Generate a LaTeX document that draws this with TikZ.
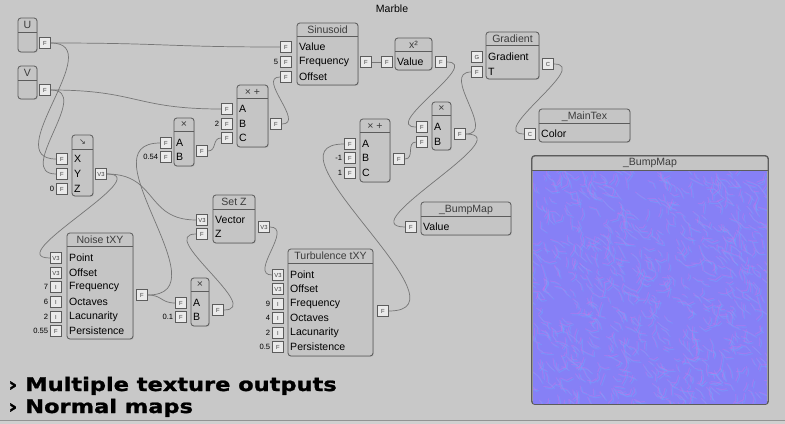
\documentclass[tikz,border=0pt]{standalone}
\usepackage{fontspec}
\setmainfont{Liberation Sans}
\newfontfamily\symfont{DejaVu Sans}
\newfontfamily\bannerfont{DejaVu Sans Bold}[FakeStretch=1.2, FakeBold=1.2]
\usetikzlibrary{fit,shadows}
\definecolor{panelgrey}{RGB}{200,200,200}
\definecolor{boxgrey}{RGB}{197,197,197}
\definecolor{edgegrey}{RGB}{92,92,92}
\definecolor{portgrey}{RGB}{234,234,234}
\definecolor{wiregrey}{RGB}{118,118,118}
\definecolor{titlegrey}{RGB}{60,60,60}
\definecolor{nmbase}{RGB}{134,128,246}
\definecolor{nmpink}{RGB}{196,120,236}
\definecolor{nmblue}{RGB}{110,168,255}

\begin{document}
\begin{tikzpicture}[x=0.03cm, y=-0.03cm,
  blk/.style={draw=edgegrey, fill=boxgrey, line width=0.7pt, rounded corners=2.5pt, inner sep=0pt,
    drop shadow={shadow xshift=0.7pt, shadow yshift=-0.7pt, opacity=0.25}},
  ttl/.style={font=\fontsize{9}{10}\selectfont, text=titlegrey, inner sep=0pt},
  row/.style={font=\fontsize{9}{10}\selectfont, anchor=west, inner sep=0pt},
  sep/.style={draw=edgegrey, line width=0.6pt},
  port/.style={draw=edgegrey, fill=portgrey, line width=0.5pt, minimum size=0.33cm, inner sep=0pt,
    font=\fontsize{5}{5}\selectfont, text=titlegrey},
  val/.style={font=\fontsize{6.5}{7}\selectfont, inner sep=0pt, label distance=1.5pt},
  banner/.style={anchor=base west, inner sep=0pt, font=\bannerfont\fontsize{16}{18}\selectfont},
  wire/.style={draw=wiregrey, line width=0.6pt, out=0, in=180, looseness=1.3}]
\fill[panelgrey] (0,0) rectangle (785,424);
\useasboundingbox (0,0) rectangle (785,424);
\fill[panelgrey!85!white] (0,420) rectangle (785,424);
\draw[gray!85, line width=0.4pt] (0,420) -- (785,420);
\node[ttl, text=black] (title) at (392,9) {Marble};

\node[blk, fit={(18,18) (37,52)}] (u) {};
\node[ttl] at (27.5,25) {U};
\draw[sep] (18,32) -- (37,32);
\node[port] (uF) at (45,43) {F};

\node[blk, fit={(18,66) (37,99)}] (v) {};
\node[ttl] at (27.5,73) {V};
\draw[sep] (18,80) -- (37,80);
\node[port] (vF) at (45,90) {F};

\node[blk, fit={(72,135) (93,196)}] (dir) {};
\node[ttl] at (82.5,142) {\symfont\fontsize{7}{7}\selectfont ↘};
\draw[sep] (72,149) -- (93,149);
\node[row] at (74,159) {X};
\node[row] at (74,174) {Y};
\node[row] at (74,189) {Z};
\node[port] (dirX) at (62,159) {F};
\node[port] (dirY) at (62,174) {F};
\node[port, label={[val]left:0}] (dirZ) at (62,189) {F};
\node[port] (dirO) at (101,174) {V3};

\node[blk, fit={(174,118) (194,166)}] (ma) {};
\node[ttl] at (184,125) {×};
\draw[sep] (174,131) -- (194,131);
\node[row] at (176,143) {A};
\node[row] at (176,157) {B};
\node[port] (maA) at (166,143) {F};
\node[port, label={[val]left:0.54}] (maB) at (166,157) {F};
\node[port] (maO) at (202,151) {F};

\node[blk, fit={(237,85) (268,147)}] (xl) {};
\node[ttl] at (252.5,92) {× +};
\draw[sep] (237,98) -- (268,98);
\node[row] at (239,109) {A};
\node[row] at (239,124) {B};
\node[row] at (239,138) {C};
\node[port] (xlA) at (227,109) {F};
\node[port, label={[val]left:2}] (xlB) at (227,124) {F};
\node[port] (xlC) at (227,138) {F};
\node[port] (xlO) at (276,124) {F};

\node[blk, fit={(297,23) (358,85)}] (sn) {};
\node[ttl] at (327.5,30) {Sinusoid};
\draw[sep] (297,36) -- (358,36);
\node[row] at (299,47) {Value};
\node[row] at (299,62) {Frequency};
\node[row] at (299,77) {Offset};
\node[port] (snV) at (286,47) {F};
\node[port, label={[val]left:5}] (snF) at (286,62) {F};
\node[port] (snO) at (286,77) {F};
\node[port] (snOut) at (366,62) {F};

\node[blk, fit={(395,38) (432,70)}] (sq) {};
\node[ttl] at (413.5,45) {x²};
\draw[sep] (395,51) -- (432,51);
\node[row] at (397,62) {Value};
\node[port] (sqV) at (387,62) {F};
\node[port] (sqO) at (441,62) {F};

\node[blk, fit={(360,119) (390,182)}] (xr) {};
\node[ttl] at (375,126) {× +};
\draw[sep] (360,132) -- (390,132);
\node[row] at (362,144) {A};
\node[row] at (362,158) {B};
\node[row] at (362,173) {C};
\node[port] (xrA) at (350,144) {F};
\node[port, label={[val]left:-1}] (xrB) at (350,158) {F};
\node[port, label={[val]left:1}] (xrC) at (350,173) {F};
\node[port] (xrO) at (399,159) {F};

\node[blk, fit={(432,102) (451,150)}] (mr) {};
\node[ttl] at (441.5,109) {×};
\draw[sep] (432,115) -- (451,115);
\node[row] at (434,127) {A};
\node[row] at (434,142) {B};
\node[port] (mrA) at (422,127) {F};
\node[port] (mrB) at (422,142) {F};
\node[port] (mrO) at (460,134) {F};

\node[blk, fit={(486,32) (539,79)}] (gr) {};
\node[ttl] at (512.5,39) {Gradient};
\draw[sep] (486,45) -- (539,45);
\node[row] at (488,57) {Gradient};
\node[row] at (488,72) {T};
\node[port] (grG) at (477,57) {G};
\node[port] (grT) at (477,72) {F};
\node[port] (grC) at (548,64) {C};

\node[blk, fit={(539,109) (630,142)}] (mt) {};
\node[ttl] at (584.5,117) {\_MainTex};
\draw[sep] (539,123) -- (630,123);
\node[row] at (541,134) {Color};
\node[port] (mtC) at (530,134) {C};

\node[blk, fit={(421,202) (511,235)}] (bm) {};
\node[ttl] at (466,210) {\_BumpMap};
\draw[sep] (421,216) -- (511,216);
\node[row] at (423,227) {Value};
\node[port] (bmV) at (411,227) {F};

\node[blk, fit={(67,233) (133,339)}] (nz) {};
\node[ttl] at (100,240) {Noise tXY};
\draw[sep] (67,246) -- (133,246);
\foreach \yy/\tx/\pt/\vv [count=\i] in {258/Point/V3/{}, 273/Offset/V3/{}, 287/Frequency/I/7,
    302/Octaves/I/6, 317/Lacunarity/I/2, 331/Persistence/F/0.55} {
  \node[row] at (69,\yy) {\tx};
  \node[port, label={[val]left:\vv}] (nz\i) at (56,\yy) {\pt};
}
\node[port] (nzO) at (142,295) {F};

\node[blk, fit={(191,278) (209,326)}] (mb) {};
\node[ttl] at (200,285) {×};
\draw[sep] (191,291) -- (209,291);
\node[row] at (193,303) {A};
\node[row] at (193,317) {B};
\node[port] (mbA) at (181,303) {F};
\node[port, label={[val]left:0.1}] (mbB) at (181,317) {F};
\node[port] (mbO) at (218,310) {F};

\node[blk, fit={(213,195) (255,243)}] (sz) {};
\node[ttl] at (234,202) {Set Z};
\draw[sep] (213,209) -- (255,209);
\node[row] at (215,220) {Vector};
\node[row] at (215,234) {Z};
\node[port] (szV) at (202,220) {V3};
\node[port] (szZ) at (202,234) {F};
\node[port] (szO) at (264,227) {V3};

\node[blk, fit={(288,249) (373,356)}] (tb) {};
\node[ttl] at (330.5,256) {Turbulence tXY};
\draw[sep] (288,263) -- (373,263);
\foreach \yy/\tx/\pt/\vv [count=\i] in {275/Point/V3/{}, 289/Offset/V3/{}, 304/Frequency/I/9,
    318/Octaves/I/4, 333/Lacunarity/I/2, 347/Persistence/F/0.5} {
  \node[row] at (290,\yy) {\tx};
  \node[port, label={[val]left:\vv}] (tb\i) at (278,\yy) {\pt};
}
\node[port] (tbO) at (383,311) {F};

\node[blk, fit={(532,156) (768,404)}] (prev) {};
\node[ttl] at (650,163) {\_BumpMap};
\fill[nmbase] (533,170) rectangle (767,403.5);
\begin{scope}
\clip (533,170) rectangle (767,403.5);
\pgfmathsetseed{42}
\foreach \k in {1,...,900} {
  \pgfmathsetmacro{\xa}{527+246*rnd}
  \pgfmathsetmacro{\ya}{164+246*rnd}
  \pgfmathsetmacro{\an}{rnd*110}
  \pgfmathsetmacro{\bn}{\an-60+rnd*120}
  \pgfmathsetmacro{\ln}{2.5+5*rnd}
  \draw[nmpink, line width=0.9pt, opacity=0.4, line join=round, line cap=round] (\xa,\ya) -- ++(\an:\ln) -- ++(\bn:\ln);
  \draw[nmblue, line width=0.9pt, opacity=0.4, line join=round, line cap=round] (\xa+1.4,\ya+1.4) -- ++(\an:\ln) -- ++(\bn:\ln);
}
\end{scope}
\draw[sep] (532,170) -- (768,170);
\draw[edgegrey, line width=0.7pt, rounded corners=2.5pt] (prev.south west) rectangle (prev.north east);

\draw[wire] (uF.east) to (snV.west);
\draw[wire] (uF.east) to (dirX.west);
\draw[wire] (vF.east) to (dirY.west);
\draw[wire] (vF.east) to (xlA.west);
\draw[wire] (dirO.east) to (nz1.west);
\draw[wire] (dirO.east) to (szV.west);
\draw[wire] (nzO.east) to (maA.west);
\draw[wire] (nzO.east) to (mbA.west);
\draw[wire] (maO.east) to (xlC.west);
\draw[wire] (xlO.east) to (snO.west);
\draw[wire] (mbO.east) to (szZ.west);
\draw[wire] (szO.east) to (tb1.west);
\draw[wire] (snOut.east) to (sqV.west);
\draw[wire] (sqO.east) to (mrA.west);
\draw[wire] (xrO.east) to (mrB.west);
\draw[wire] (tbO.east) to (xrA.west);
\draw[wire] (mrO.east) to (grT.west);
\draw[wire] (mrO.east) to (bmV.west);
\draw[wire] (grC.east) to (mtC.west);

\node[banner] (ln1) at (8,391) {› Multiple texture outputs};
\node[banner] (ln2) at (8,413) {› Normal maps};
\end{tikzpicture}
\end{document}
